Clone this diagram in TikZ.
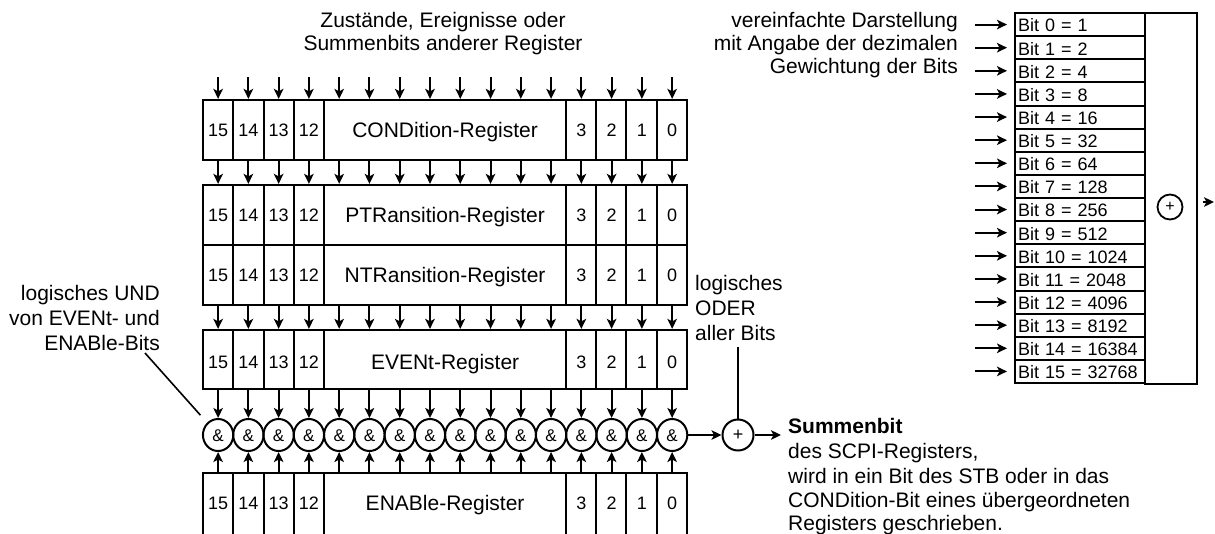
\documentclass[tikz,border=0pt]{standalone}
\usepackage{fontspec}
\setmainfont{Liberation Sans}
\usetikzlibrary{arrows.meta,shapes.geometric}
\tikzset{
  arr/.style={line width=2pt, -{Stealth[length=10pt,width=9.5pt,inset=2.5pt]}},
  regframe/.style={draw, line width=2.2pt, minimum width=484pt, inner sep=0pt},
  divline/.style={line width=2pt},
  lbl/.style={font=\fontsize{21}{24}\selectfont, inner sep=0pt},
  reglbl/.style={font=\fontsize{21}{24}\selectfont, inner sep=0pt, text height=15pt, text depth=0pt},
  num/.style={font=\fontsize{18}{20}\selectfont, inner sep=0pt, text height=12.9pt, text depth=0pt},
  amp/.style={draw, ellipse, line width=2pt, minimum width=30.3pt, minimum height=32pt, inner sep=0pt,
    font=\fontsize{17}{20}\selectfont, text height=12.2pt, text depth=0pt},
  sumcirc/.style={draw, circle, line width=2pt, minimum size=31pt, inner sep=0pt,
    font=\fontsize{18}{20}\selectfont},
  bitrow/.style={draw, line width=2pt, minimum width=130pt, minimum height=23.125pt,
    inner xsep=3pt, inner ysep=0pt, text width=124pt, align=left,
    font=\fontsize{18}{20}\selectfont, text height=14.8pt, text depth=0pt},
}
\newcommand\myreg[5]{% name, top, bottom, label, label y
  \node[regframe, minimum height={(#3)-(#2)}] (#1) at (445,{((#2)+(#3))/2}) {};
  \foreach \xx in {233.27,263.54,293.81,324.08,565.92,596.19,626.46,656.73}
    \draw[divline] (\xx,#2) -- (\xx,#3);
  \foreach \i/\lab in {0/15,1/14,2/13,3/12,12/3,13/2,14/1,15/0}
    \node[num] (#1-n\i) at ({218.1+30.27*\i},#5) {\lab};
  \node[reglbl] (#1-t) at (445.1,#5) {#4};
}
\begin{document}
\begin{tikzpicture}[x=1pt,y=-1pt]
\useasboundingbox (0,0) rectangle (1215,533);

% column coordinates
\foreach \k in {0,...,15}
  \coordinate (col\k) at ({218.1+30.27*\k},0);
\coordinate (topline) at (0,77);

% top text
\node[lbl, anchor=base] (top1) at (443,27) {Zustände, Ereignisse oder};
\node[lbl, anchor=base] (top2) at (443,50) {Summenbits anderer Register};

% registers
\myreg{cond}{100}{160}{CONDition-Register}{130}
\myreg{ptr}{185}{245}{PTRansition-Register}{215}
\myreg{ntr}{245}{305}{NTRansition-Register}{275}
\myreg{evt}{330}{389}{EVENt-Register}{362}
\myreg{ena}{473}{537}{ENABle-Register}{503}

% AND gates
\foreach \k in {0,...,15}
  \node[amp] (amp\k) at ({218.1+30.27*\k},435) {\&};

% arrows
\foreach \k in {0,...,15}{
  \draw[arr] (topline -| col\k) -- (cond.north -| col\k);
  \draw[arr] (cond.south -| col\k) -- (ptr.north -| col\k);
  \draw[arr] (ntr.south -| col\k) -- (evt.north -| col\k);
  \draw[arr] (evt.south -| col\k) -- (amp\k.north);
  \draw[arr] (ena.north -| col\k) -- (amp\k.south);
}

% OR
\node[sumcirc] (plus) at (738,435) {+};
\draw[arr] (amp15.east) -- (plus.west);
\coordinate (sumend) at (781,435);
\draw[arr] (plus.east) -- (sumend);

% left label
\node[lbl, anchor=base east] (und1) at (160,300) {logisches UND};
\node[lbl, anchor=base east] (und2) at (160,325) {von EVENt- und};
\node[lbl, anchor=base east] (und3) at (160,350) {ENABle-Bits};
\coordinate (undA) at (145,353);
\draw[line width=1.6pt, shorten >=10pt] (undA) -- (amp0);

% ODER label
\node[lbl, anchor=base west] (oder1) at (695,290) {logisches};
\node[lbl, anchor=base west] (oder2) at (695,315) {ODER};
\node[lbl, anchor=base west] (oder3) at (695,340) {aller Bits};
\coordinate (oderbot) at (738,347);
\draw[line width=1.8pt] (oderbot) -- (plus.north);

% Summenbit text
\node[lbl, anchor=base west] (sum1) at (788,433) {\textbf{Summenbit}};
\node[lbl, anchor=base west] (sum2) at (788,458) {des SCPI-Registers,};
\node[lbl, anchor=base west] (sum3) at (788,483) {wird in ein Bit des STB oder in das};
\node[lbl, anchor=base west] (sum4) at (788,507) {CONDition-Bit eines übergeordneten};
\node[lbl, anchor=base west] (sum5) at (788,530) {Registers geschrieben.};

% right: simplified representation
\node[lbl, anchor=base east] (ver1) at (958,27) {vereinfachte Darstellung};
\node[lbl, anchor=base east] (ver2) at (958,50) {mit Angabe der dezimalen};
\node[lbl, anchor=base east] (ver3) at (958,73) {Gewichtung der Bits};

\node[draw, line width=2.2pt, minimum width=52pt, minimum height=371pt, inner sep=0pt] (sumbox) at (1171,198.5) {};
\coordinate (inx) at (975,0);
\foreach \k/\v in {0/1,1/2,2/4,3/8,4/16,5/32,6/64,7/128,8/256,9/512,10/1024,11/2048,12/4096,13/8192,14/16384,15/32768}{
  \node[bitrow] (bit\k) at (1080,{13+23.125*(\k+0.5)}) {Bit \k{} = \v};
  \draw[arr, shorten >=7pt] (inx |- bit\k.west) -- (bit\k.west);
}
\node[draw, circle, line width=1.8pt, minimum size=25pt, inner sep=0pt, font=\fontsize{16}{18}\selectfont] (plusb) at (1170,207) {+};
\coordinate (outy) at (0,202);
\coordinate (outend) at (1214,202);
\draw[arr, shorten <=5pt] (sumbox.east |- outy) -- (outend);
\end{tikzpicture}
\end{document}
